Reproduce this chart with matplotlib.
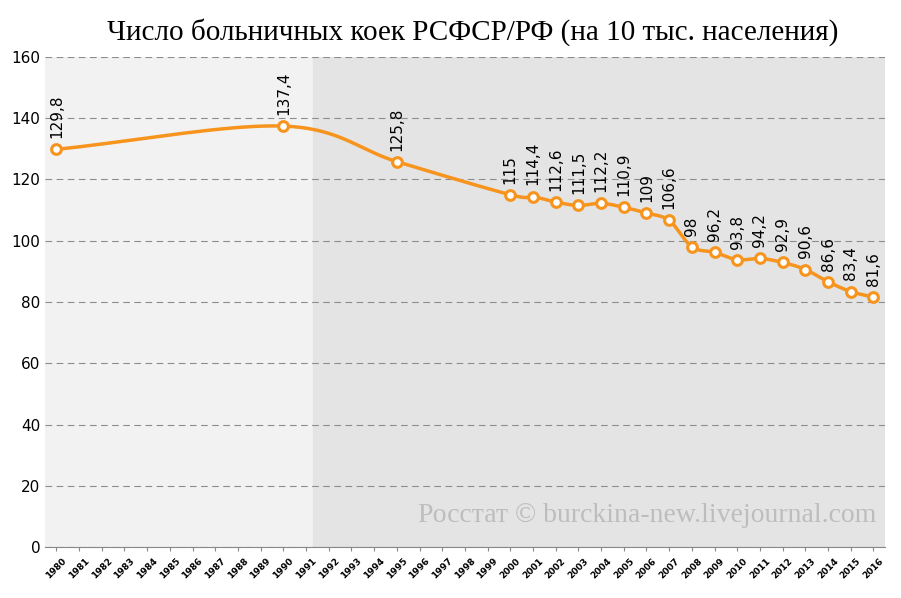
import numpy as np
import matplotlib
matplotlib.use("Agg")
import matplotlib.pyplot as plt

years = list(range(1980, 2017))
data_years = [1980, 1990, 1995] + list(range(2000, 2017))
values = [129.8, 137.4, 125.8, 115, 114.4, 112.6, 111.5, 112.2, 110.9, 109, 106.6,
          98, 96.2, 93.8, 94.2, 92.9, 90.6, 86.6, 83.4, 81.6]
labels = ["129,8", "137,4", "125,8", "115", "114,4", "112,6", "111,5", "112,2", "110,9",
          "109", "106,6", "98", "96,2", "93,8", "94,2", "92,9", "90,6", "86,6", "83,4", "81,6"]

xs = np.array([years.index(y) for y in data_years], dtype=float)
ys = np.array(values, dtype=float)

# smoothed line drawing (Catmull-Rom through the data points)
def smooth(x, y, n=20):
    px = np.concatenate([[2 * x[0] - x[1]], x, [2 * x[-1] - x[-2]]])
    py = np.concatenate([[2 * y[0] - y[1]], y, [2 * y[-1] - y[-2]]])
    ox, oy = [], []
    for i in range(1, len(px) - 2):
        t = np.linspace(0, 1, n)
        for arr, out in ((px, ox), (py, oy)):
            p0, p1, p2, p3 = arr[i - 1:i + 3]
            out.extend(0.5 * ((2 * p1) + (-p0 + p2) * t + (2 * p0 - 5 * p1 + 4 * p2 - p3) * t ** 2
                              + (-p0 + 3 * p1 - 3 * p2 + p3) * t ** 3))
    return ox, oy

fig = plt.figure(figsize=(9.01, 5.98), dpi=100)
ax = fig.add_axes([0.05, 0.085, 0.932, 0.82])
ax.set_xlim(-0.5, len(years) - 0.5)
ax.set_ylim(0, 160)
ax.axvspan(-0.5, 11.3, color="#f2f2f2", zorder=0)
ax.axvspan(11.3, len(years) - 0.5, color="#e4e4e4", zorder=0)
ax.set_yticks(range(0, 161, 20))
ax.yaxis.grid(True, color="#8c8c8c", linestyle=(0, (6, 4)), linewidth=0.8)
ax.set_axisbelow(True)
for s in ax.spines.values():
    s.set_visible(False)
ax.spines["bottom"].set_visible(True)
ax.spines["bottom"].set_color("#888888")
ax.tick_params(axis="y", length=0, labelsize=11)
ax.set_xticks(range(len(years)))
ax.set_xticklabels([str(y) for y in years], rotation=45, fontsize=6.5, fontweight="bold")
ax.tick_params(axis="x", length=3, color="#888888")

sx, sy = smooth(xs, ys)
ax.plot(sx, sy, color="#f7941d", linewidth=2.5, zorder=3)
ax.plot(xs, ys, "o", color="white", markeredgecolor="#f7941d", markeredgewidth=2.2,
        markersize=7, zorder=4)
for x, y, t in zip(xs, ys, labels):
    ax.annotate(t, (x, y), xytext=(0, 8), textcoords="offset points", rotation=90,
                ha="center", va="bottom", fontsize=11)

fig.text(0.525, 0.947, "Число больничных коек РСФСР/РФ (на 10 тыс. населения)",
         ha="center", va="center", fontsize=21, family="Liberation Serif")
ax.text(0.99, 0.04, "Росстат © burckina-new.livejournal.com", transform=ax.transAxes,
        ha="right", va="bottom", fontsize=20, color="#bdbdbd", family="Liberation Serif")
fig.savefig("out.png", dpi=100)
